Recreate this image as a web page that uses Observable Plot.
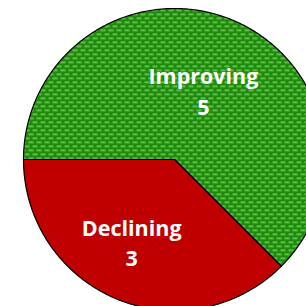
<!DOCTYPE html>
<html>
<head>
<meta charset="utf-8">
<script src="https://cdn.jsdelivr.net/npm/d3@7"></script>
<script src="https://cdn.jsdelivr.net/npm/@observablehq/plot@0.6"></script>
<style>
  html, body { margin: 0; padding: 0; background: #ffffff; }
  #chart { width: 306px; height: 306px; overflow: hidden; }
</style>
</head>
<body>
<div id="chart"></div>
<script>
// Data
const categories = ["Improving", "Declining"];
const values = [5, 3];

// Layout
const W = 306, H = 306;
const cx = 174, cy = 159, R = 151;
const fills = ["url(#greenDash)", "#c00000"];
const labelRadius = [0.5, 0.585];
const labelDx = [0, -9];

const pie = d3.pie().sort(null).startAngle(-Math.PI / 2).endAngle(3 * Math.PI / 2)(values);

// Slice outlines (unit circle coordinates)
const slicePts = pie.map((p, i) => {
  const pts = [{cat: categories[i], x: 0, y: 0}];
  const n = Math.max(2, Math.ceil((p.endAngle - p.startAngle) / 0.01));
  for (let k = 0; k <= n; k++) {
    const a = p.startAngle + (p.endAngle - p.startAngle) * k / n;
    pts.push({cat: categories[i], x: Math.sin(a), y: Math.cos(a)});
  }
  pts.push({cat: categories[i], x: 0, y: 0});
  return pts;
});

const labels = pie.map((p, i) => {
  const a = (p.startAngle + p.endAngle) / 2;
  return {
    text: `${categories[i]}\n${values[i]}`,
    x: labelRadius[i] * Math.sin(a),
    y: labelRadius[i] * Math.cos(a),
    dx: labelDx[i]
  };
});

const svg = Plot.plot({
  width: W,
  height: H,
  margin: 0,
  style: {background: "white", overflow: "hidden"},
  x: {domain: [-cx / R, (W - cx) / R], range: [0, W], axis: null},
  y: {domain: [-(H - cy) / R, cy / R], range: [H, 0], axis: null},
  marks: [
    ...slicePts.map((pts, i) => Plot.line(pts, {
      x: "x", y: "y", fill: fills[i], stroke: "black", strokeWidth: 1.2, strokeLinejoin: "round"
    })),
    ...labels.map(l => Plot.text([l], {
      x: "x", y: "y", text: "text", dx: l.dx,
      fill: "white", fontSize: 21.5, fontWeight: "bold",
      fontFamily: "'Open Sans', sans-serif", lineHeight: 1.42,
      textAnchor: "middle", lineAnchor: "middle"
    }))
  ]
});

d3.select(svg).insert("defs", ":first-child").html(`
  <pattern id="greenDash" patternUnits="userSpaceOnUse" width="8" height="8">
    <rect width="8" height="8" fill="#1e8c0b"/>
    <rect x="0" y="1" width="5" height="1.6" fill="#74c95c"/>
    <rect x="4" y="5" width="5" height="1.6" fill="#74c95c"/>
    <rect x="-4" y="5" width="5" height="1.6" fill="#74c95c"/>
  </pattern>
`);

document.getElementById("chart").appendChild(svg);
</script>
</body>
</html>
